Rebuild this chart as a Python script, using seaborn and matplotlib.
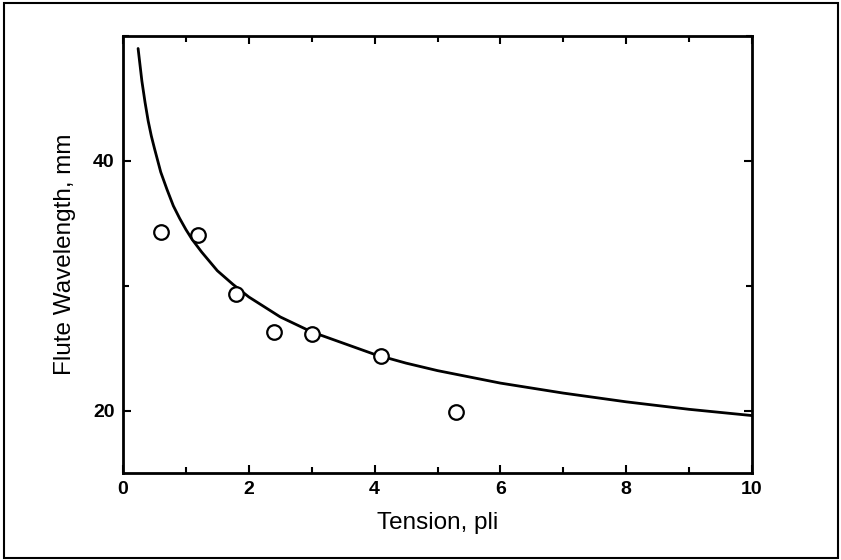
import matplotlib
matplotlib.use("Agg")
import matplotlib.pyplot as plt
import seaborn as sns
import pandas as pd
from matplotlib.ticker import MultipleLocator
from matplotlib.patches import Rectangle

sns.set_style("ticks")
plt.rcParams['font.family'] = ['Liberation Sans', 'DejaVu Sans']
plt.rcParams['text.color'] = 'black'
plt.rcParams['axes.labelcolor'] = 'black'
plt.rcParams['xtick.color'] = 'black'
plt.rcParams['ytick.color'] = 'black'

# Measured data points
tension = [0.6, 1.2, 1.8, 2.4, 3.0, 4.1, 5.3]
wavelength = [34.3, 34.1, 29.3, 26.3, 26.1, 24.4, 19.9]

# Fitted curve
curve_x = [0.24, 0.3, 0.35, 0.4, 0.45, 0.5, 0.6, 0.7, 0.8, 0.9, 1.0, 1.1, 1.25, 1.5,
           1.75, 2.0, 2.25, 2.5, 3.0, 3.5, 4.0, 4.5, 5.0, 6.0, 7.0, 8.0, 9.0, 10.0]
curve_y = [49.0, 46.4, 44.7, 43.2, 42.0, 41.0, 39.1, 37.7, 36.4, 35.4, 34.5, 33.7, 32.7, 31.2,
           30.1, 29.1, 28.3, 27.5, 26.3, 25.4, 24.5, 23.8, 23.2, 22.2, 21.4, 20.7, 20.1, 19.6]

pts = pd.DataFrame({"Tension": tension, "Wavelength": wavelength})
fit = pd.DataFrame({"x": curve_x, "y": curve_y})

fig = plt.figure(figsize=(8.41, 5.60), dpi=100)
ax = fig.add_axes([123/841, 1 - 473/560, (752 - 123)/841, (473 - 36)/560])

sns.lineplot(data=fit, x="x", y="y", ax=ax, color="black", linewidth=2.0, sort=False)
sns.scatterplot(data=pts, x="Tension", y="Wavelength", ax=ax, s=110,
                facecolor="white", edgecolor="black", linewidth=1.6, zorder=5)

ax.set_xlim(0, 10)
ax.set_ylim(15, 50)
ax.xaxis.set_major_locator(MultipleLocator(2))
ax.xaxis.set_minor_locator(MultipleLocator(1))
ax.yaxis.set_major_locator(MultipleLocator(20))
ax.yaxis.set_minor_locator(MultipleLocator(10))
ax.tick_params(which="both", direction="in", top=True, right=True, width=1.5,
               labelsize=14, pad=6)
ax.tick_params(which="major", length=6)
ax.tick_params(which="minor", length=4)
for lab in ax.get_xticklabels() + ax.get_yticklabels():
    lab.set_fontweight("bold")
for s in ax.spines.values():
    s.set_linewidth(2.0)
    s.set_color("black")

ax.set_xlabel("Tension, pli", fontsize=17.5, labelpad=10)
ax.set_ylabel("Flute Wavelength, mm", fontsize=17.5, labelpad=12)

fig.patches.append(Rectangle((4/841, 2/560), (838 - 4)/841, (557 - 2)/560,
                             transform=fig.transFigure, fill=False,
                             edgecolor="black", linewidth=1.5))

fig.savefig("out.png", dpi=100)
